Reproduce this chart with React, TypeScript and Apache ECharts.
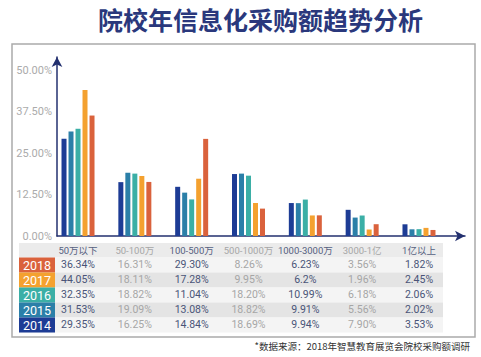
import React, { useEffect, useRef } from 'react';
import * as echarts from 'echarts';

const categories = ['50万以下', '50-100万', '100-500万', '500-1000万', '1000-3000万', '3000-1亿', '1亿以上'];
const years = ['2014', '2015', '2016', '2017', '2018'];
const yearColors = ['#1d3c95', '#2b7fa8', '#3bafa6', '#f4a12f', '#da623c'];
const v2014 = ['29.35%', '16.25%', '14.84%', '18.69%', '9.94%', '7.90%', '3.53%'];
const v2015 = ['31.53%', '19.09%', '13.08%', '18.82%', '9.91%', '5.56%', '2.02%'];
const v2016 = ['32.35%', '18.82%', '11.04%', '18.20%', '10.99%', '6.18%', '2.06%'];
const v2017 = ['44.05%', '18.11%', '17.28%', '9.95%', '6.2%', '1.96%', '2.45%'];
const v2018 = ['36.34%', '16.31%', '29.30%', '8.26%', '6.23%', '3.56%', '1.82%'];
const yTicks = [0, 12.5, 25, 37.5, 50];

const FONT = '"Noto Sans CJK SC", "Noto Sans", sans-serif';
const NARROW = 'Roboto, "Noto Sans CJK SC", sans-serif';

export default function App() {
  const ref = useRef<HTMLDivElement>(null);
  useEffect(() => {
    if (!ref.current) return;
    const chart = echarts.init(ref.current, undefined, { renderer: 'svg' });
    const seriesValues = [v2014, v2015, v2016, v2017, v2018];
    const tableRows = [v2018, v2017, v2016, v2015, v2014];
    const tableYears = ['2018', '2017', '2016', '2015', '2014'];
    const tableColors = tableYears.map((y) => yearColors[years.indexOf(y)]);

    const tableTop = 243;
    const rowH = 15;
    const graphics: any[] = [];
    graphics.push({
      type: 'rect', z: 0, silent: true,
      shape: { x: 12, y: 44, width: 463, height: 293 },
      style: { fill: 'none', stroke: '#ababab', lineWidth: 1.5 },
    });
    graphics.push({
      type: 'rect', z: 0, silent: true,
      shape: { x: 19, y: tableTop, width: 424, height: 14.5 },
      style: { fill: '#ebebeb' },
    });
    tableYears.forEach((y, i) => {
      const top = tableTop + 14.5 + rowH * i;
      graphics.push({
        type: 'rect', z: 0, silent: true,
        shape: { x: 19, y: top, width: 424, height: rowH },
        style: { fill: i % 2 === 0 ? '#f4f4f4' : '#e4e4e4' },
      });
      graphics.push({
        type: 'rect', z: 1, silent: true,
        shape: { x: 19, y: top, width: 36, height: rowH },
        style: { fill: tableColors[i] },
      });
      graphics.push({
        type: 'text', z: 2, silent: true,
        x: 37, y: top + rowH / 2 + 0.5,
        style: { text: y, fill: '#ffffff', fontSize: 12.5, lineHeight: 13, fontFamily: NARROW, align: 'center', verticalAlign: 'middle' },
      });
    });
    graphics.push({
      type: 'text', z: 2, silent: true,
      x: 470, y: 346,
      style: { text: '*数据来源：2018年智慧教育展览会院校采购额调研', fill: '#333333', fontSize: 9.5, fontFamily: FONT, align: 'right', verticalAlign: 'middle' },
    });

    const option: any = {
      animation: false,
      backgroundColor: '#ffffff',
      title: {
        text: '院校年信息化采购额趋势分析',
        left: 93,
        top: 1,
        textStyle: { fontSize: 25, fontWeight: 'bold', color: '#2a387c', fontFamily: FONT },
      },
      graphic: graphics,
      grid: [
        { left: 49.6, width: 397.8, top: 57, bottom: 121, containLabel: false },
        { left: 57, right: 16, top: 57, bottom: 121, containLabel: false },
      ],
      xAxis: [
        {
          type: 'category',
          gridIndex: 0,
          data: categories,
          z: 5,
          axisLine: { show: false },
          axisTick: { show: false },
          axisLabel: {
            interval: 0,
            margin: 6.75,
            fontFamily: NARROW,
            formatter: (value: string, index: number) => {
              const dark = index % 2 === 0;
              const h = dark ? 'hd' : 'hl';
              const c = dark ? 'vd' : 'vl';
              const lines = [`{${h}|${value}}`].concat(tableRows.map((r) => `{${c}|${r[index]}}`));
              return lines.join('\n');
            },
            rich: {
              hd: { fontSize: 9.5, lineHeight: 14.5, color: '#55607f', fontFamily: NARROW },
              hl: { fontSize: 9.5, lineHeight: 14.5, color: '#a6a6a6', fontFamily: NARROW },
              vd: { fontSize: 10.5, lineHeight: 15, color: '#4a5478', fontFamily: NARROW },
              vl: { fontSize: 10.5, lineHeight: 15, color: '#a6a6a6', fontFamily: NARROW },
            },
          },
        },
        {
          type: 'value',
          gridIndex: 1,
          min: 0,
          max: 1,
          axisLine: { show: true, symbol: ['none', 'arrow'], symbolSize: [8, 10], lineStyle: { color: '#23306f', width: 1.5 } },
          axisTick: { show: false },
          axisLabel: { show: false },
          splitLine: { show: false },
        },
      ],
      yAxis: [
        {
          type: 'value',
          gridIndex: 0,
          min: 0,
          max: 54,
          interval: 12.5,
          offset: -7.4,
          axisLine: { show: true, symbol: ['none', 'arrow'], symbolSize: [8, 10], lineStyle: { color: '#23306f', width: 1.5 } },
          axisTick: { show: false },
          splitLine: { show: false },
          axisLabel: {
            showMaxLabel: false,
            margin: 5,
            color: '#ababab',
            fontSize: 11,
            fontFamily: NARROW,
            formatter: (v: number) => (yTicks.includes(v) ? v.toFixed(2) + '%' : ''),
          },
        },
        { type: 'value', gridIndex: 1, show: false, min: 0, max: 1 },
      ],
      series: years.map((y, i) => ({
        name: y,
        type: 'bar',
        xAxisIndex: 0,
        yAxisIndex: 0,
        barWidth: 5,
        barGap: '40%',
        itemStyle: { color: yearColors[i] },
        data: seriesValues[i].map((s) => parseFloat(s)),
      })),
    };
    chart.setOption(option);
    return () => chart.dispose();
  }, []);
  return (
    <div
      ref={ref}
      style={{ position: 'fixed', left: 0, top: 0, width: 481, height: 357, background: '#fff' }}
    />
  );
}
